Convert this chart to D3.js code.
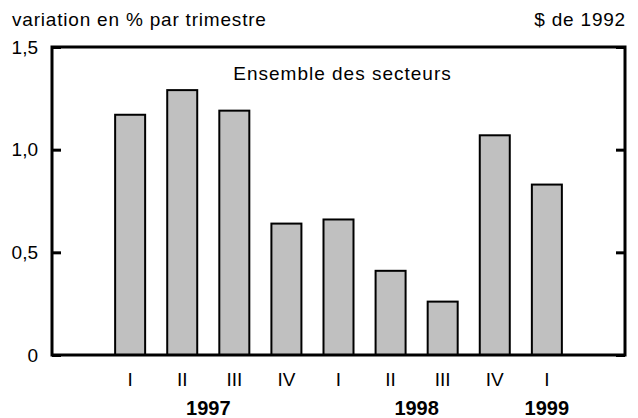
<!DOCTYPE html>
<html>
<head>
<meta charset="utf-8">
<script src="https://cdn.jsdelivr.net/npm/d3@7"></script>
<style>
  body { margin: 0; background: #fff; }
  text { font-family: "Liberation Sans", Arial, sans-serif; fill: #000; }
</style>
</head>
<body>
<div id="chart-area"></div>
<script>
// data
var quarters = ["I", "II", "III", "IV", "I", "II", "III", "IV", "I"];
var years = [1997, 1997, 1997, 1997, 1998, 1998, 1998, 1998, 1999];
var values = [1.17, 1.29, 1.19, 0.64, 0.66, 0.41, 0.26, 1.07, 0.83];
var yTicks = [0, 0.5, 1.0, 1.5];

var data = quarters.map(function(q, i){
    return { key: years[i] + "-" + q, quarter: q, year: years[i], value: values[i] };
});

var margin = { left:52, right:13, top:47, bottom:63 };
var width = 638 - margin.left - margin.right,
    height = 418 - margin.top - margin.bottom;

var svg = d3.select("#chart-area")
    .append("svg")
        .attr("width", 638)
        .attr("height", 418);

var g = svg.append("g")
    .attr("transform", "translate(" + margin.left + ", " + margin.top + ")");

var x = d3.scaleBand()
    .domain(data.map(function(d){ return d.key; }))
    .range([0, width])
    .paddingInner(0.424)
    .paddingOuter(1.212);

var y = d3.scaleLinear()
    .domain([0, 1.5])
    .range([height, 0]);

var locale = d3.formatLocale({ decimal: ",", thousands: " ", grouping: [3], currency: ["", " $"] });
var fmt = locale.format(".1f");

// bars
g.selectAll("rect.bar")
    .data(data)
    .enter()
    .append("rect")
        .attr("class", "bar")
        .attr("x", function(d){ return x(d.key); })
        .attr("y", function(d){ return y(d.value); })
        .attr("width", x.bandwidth())
        .attr("height", function(d){ return height - y(d.value); })
        .attr("fill", "#c0c0c0")
        .attr("stroke", "#000")
        .attr("stroke-width", 2);

// y axis left
var yAxisCall = d3.axisLeft(y)
    .tickValues(yTicks)
    .tickSizeInner(-9)
    .tickSizeOuter(0)
    .tickPadding(14)
    .tickFormat(function(d){ return d === 0 ? "0" : fmt(d); });

var yAxisGroup = g.append("g")
    .attr("class", "y axis")
    .call(yAxisCall);
yAxisGroup.select(".domain").remove();
yAxisGroup.selectAll("line").attr("stroke-width", 3);
yAxisGroup.selectAll("text")
    .attr("font-size", "19px")
    .attr("fill", "#000");

// y axis right (ticks only)
var yAxisRight = g.append("g")
    .attr("transform", "translate(" + width + ",0)")
    .call(d3.axisRight(y).tickValues(yTicks).tickSizeInner(-9).tickSizeOuter(0).tickFormat(""));
yAxisRight.select(".domain").remove();
yAxisRight.selectAll("line").attr("stroke-width", 3);

// frame
g.append("rect")
    .attr("x", 0)
    .attr("y", 0)
    .attr("width", width)
    .attr("height", height)
    .attr("fill", "none")
    .attr("stroke", "#000")
    .attr("stroke-width", 3);

// quarter labels
g.selectAll("text.quarter")
    .data(data)
    .enter()
    .append("text")
        .attr("class", "quarter")
        .attr("x", function(d){ return x(d.key) + x.bandwidth() / 2; })
        .attr("y", height + 31)
        .attr("text-anchor", "middle")
        .attr("font-size", "19px")
        .text(function(d){ return d.quarter; });

// year labels
var yearGroups = d3.groups(data, function(d){ return d.year; });
g.selectAll("text.year")
    .data(yearGroups)
    .enter()
    .append("text")
        .attr("class", "year")
        .attr("x", function(d){
            return d3.mean(d[1], function(e){ return x(e.key) + x.bandwidth() / 2; });
        })
        .attr("y", height + 60)
        .attr("text-anchor", "middle")
        .attr("font-size", "20px")
        .attr("font-weight", "bold")
        .text(function(d){ return d[0]; });

// titles
svg.append("text")
    .attr("x", 12)
    .attr("y", 26)
    .attr("font-size", "19px")
    .attr("letter-spacing", "0.8px")
    .text("variation en % par trimestre");

svg.append("text")
    .attr("x", 626)
    .attr("y", 26)
    .attr("text-anchor", "end")
    .attr("font-size", "19px")
    .attr("letter-spacing", "0.8px")
    .text("$ de 1992");

g.append("text")
    .attr("x", width / 2 + 4)
    .attr("y", 33)
    .attr("text-anchor", "middle")
    .attr("font-size", "19px")
    .attr("letter-spacing", "1px")
    .text("Ensemble des secteurs");
</script>
</body>
</html>
